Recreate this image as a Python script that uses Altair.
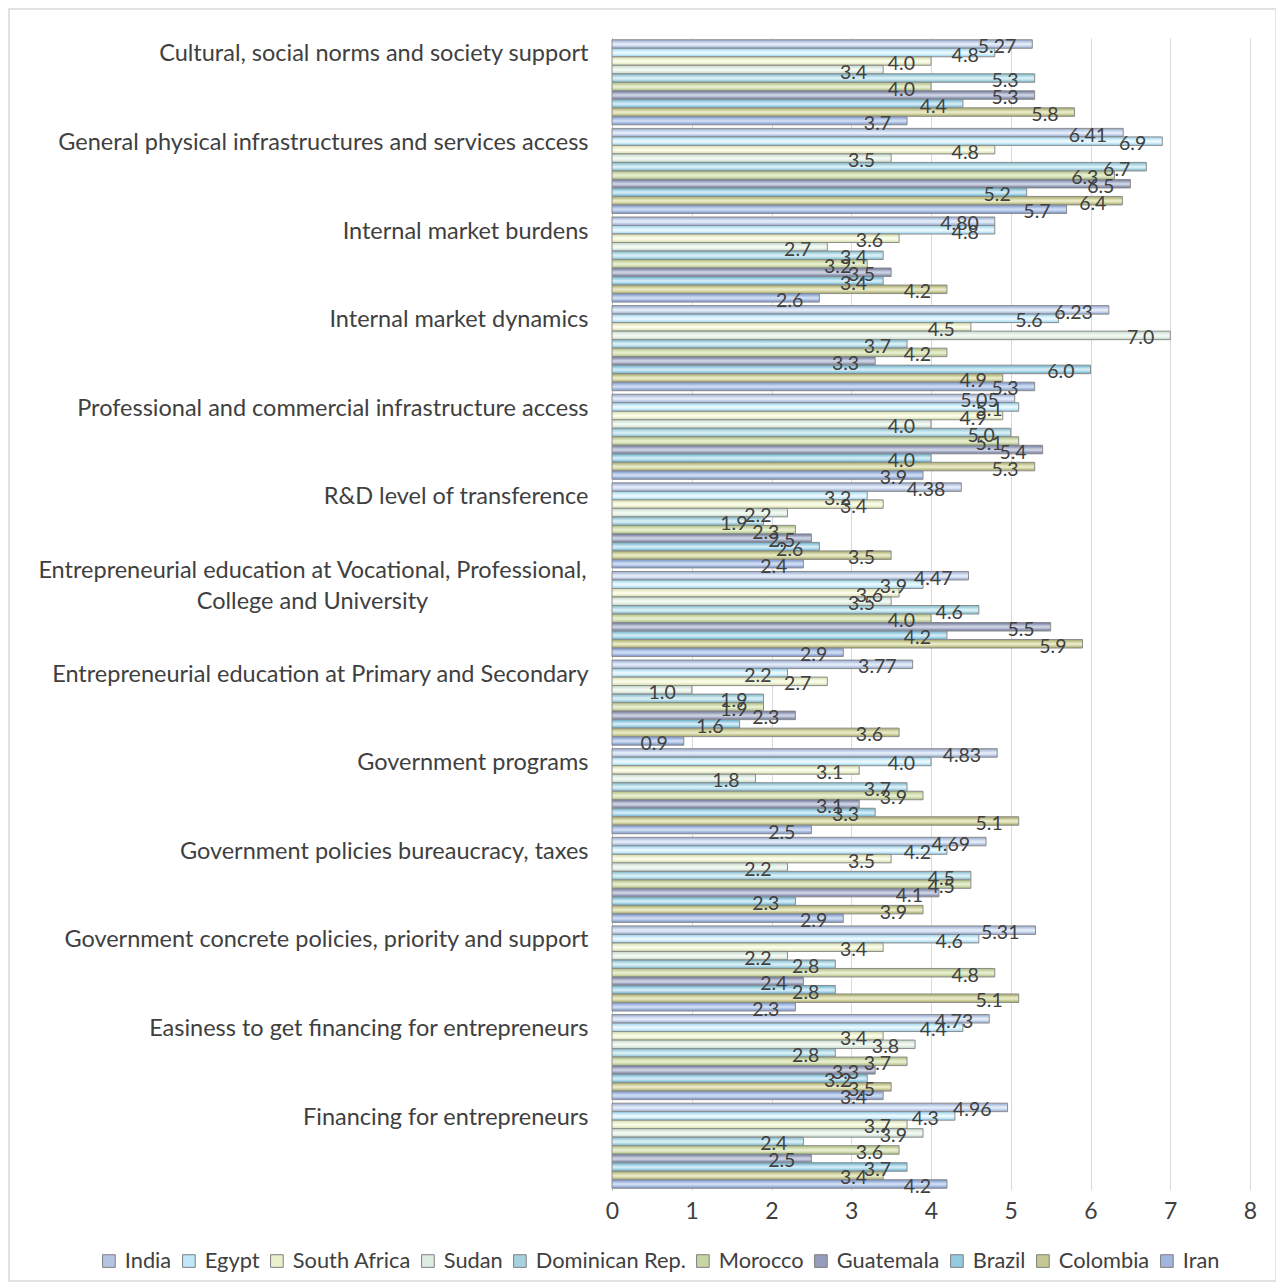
import altair as alt
import pandas as pd

categories = [
    "Cultural, social norms and society support",
    "General physical infrastructures and services access",
    "Internal market burdens",
    "Internal market dynamics",
    "Professional and commercial infrastructure access",
    "R&D level of transference",
    "Entrepreneurial education at Vocational, Professional,|College and University",
    "Entrepreneurial  education at Primary and Secondary",
    "Government programs",
    "Government policies bureaucracy, taxes",
    "Government concrete policies, priority and support",
    "Easiness to get financing for entrepreneurs",
    "Financing for entrepreneurs",
]
countries = ["India", "Egypt", "South Africa", "Sudan", "Dominican Rep.",
             "Morocco", "Guatemala", "Brazil", "Colombia", "Iran"]

india = [5.27, 6.41, 4.80, 6.23, 5.05, 4.38, 4.47, 3.77, 4.83, 4.69, 5.31, 4.73, 4.96]
egypt = [4.8, 6.9, 4.8, 5.6, 5.1, 3.2, 3.9, 2.2, 4.0, 4.2, 4.6, 4.4, 4.3]
south_africa = [4.0, 4.8, 3.6, 4.5, 4.9, 3.4, 3.6, 2.7, 3.1, 3.5, 3.4, 3.4, 3.7]
sudan = [3.4, 3.5, 2.7, 7.0, 4.0, 2.2, 3.5, 1.0, 1.8, 2.2, 2.2, 3.8, 3.9]
dominican = [5.3, 6.7, 3.4, 3.7, 5.0, 1.9, 4.6, 1.9, 3.7, 4.5, 2.8, 2.8, 2.4]
morocco = [4.0, 6.3, 3.2, 4.2, 5.1, 2.3, 4.0, 1.9, 3.9, 4.5, 4.8, 3.7, 3.6]
guatemala = [5.3, 6.5, 3.5, 3.3, 5.4, 2.5, 5.5, 2.3, 3.1, 4.1, 2.4, 3.3, 2.5]
brazil = [4.4, 5.2, 3.4, 6.0, 4.0, 2.6, 4.2, 1.6, 3.3, 2.3, 2.8, 3.2, 3.7]
colombia = [5.8, 6.4, 4.2, 4.9, 5.3, 3.5, 5.9, 3.6, 5.1, 3.9, 5.1, 3.5, 3.4]
iran = [3.7, 5.7, 2.6, 5.3, 3.9, 2.4, 2.9, 0.9, 2.5, 2.9, 2.3, 3.4, 4.2]

series = [india, egypt, south_africa, sudan, dominican,
          morocco, guatemala, brazil, colombia, iran]

edge_colors = ["#93a8cf", "#95d3ee", "#d4dbab", "#c2d8c8", "#7cb7c8",
               "#aabd7e", "#687396", "#63aecb", "#a2a664", "#7591c6"]
mid_colors = ["#e2eaf8", "#eaf8fe", "#fafce8", "#f2f8f2", "#d6eef5",
              "#e6edcd", "#cbd0e1", "#cfeaf5", "#e8e9c4", "#ccdaf2"]
legend_colors = ["#b5c5e4", "#bfe7f8", "#eaefcc", "#deece2", "#a6d2df",
                 "#c7d5a5", "#959dba", "#93cae0", "#c5c792", "#a0b6de"]

rows = []
for c, vals in zip(countries, series):
    for cat, v in zip(categories, vals):
        lab = f"{v:.2f}" if c == "India" else f"{v:.1f}"
        rows.append({"category": cat, "country": c, "value": v, "label": lab})
df = pd.DataFrame(rows)

FONT = "Lato"
TXT = "#404040"
MULTI = "indexof(datum.value, '|') >= 0"

y_enc = alt.Y(
    "category:N",
    sort=categories,
    scale=alt.Scale(domain=categories, paddingInner=0.04, paddingOuter=0.02),
    axis=alt.Axis(
        title=None, labelFontSize=23.5, labelColor=TXT, labelFont=FONT,
        labelAlign={"condition": {"test": MULTI, "value": "center"}, "value": "right"},
        labelBaseline="middle",
        labelOffset={"condition": {"test": MULTI, "value": -43.5}, "value": -28},
        labelPadding={"condition": {"test": MULTI, "value": 300}, "value": 24},
        labelLimit=0, ticks=False, domain=True,
        domainColor="#bfbfbf", labelExpr="split(datum.label, '|')",
        labelLineHeight=31,
    ),
)
yoff_enc = alt.YOffset("country:N", sort=countries,
                       scale=alt.Scale(domain=countries, paddingInner=0.0))
x_enc = alt.X(
    "value:Q",
    scale=alt.Scale(domain=[0, 8], nice=False),
    axis=alt.Axis(title=None, values=list(range(9)), grid=True, gridColor="#d9d9d9",
                  domain=False, ticks=False, labelFontSize=23, labelColor=TXT,
                  labelFont=FONT, labelPadding=10, labelFlush=False),
)

base = alt.Chart(df)
layers = []
for c, e, m in zip(countries, edge_colors, mid_colors):
    grad = alt.LinearGradient(
        gradient="linear",
        stops=[alt.GradientStop(color=e, offset=0),
               alt.GradientStop(color=m, offset=0.45),
               alt.GradientStop(color=m, offset=0.6),
               alt.GradientStop(color=e, offset=1)],
        x1=0, x2=0, y1=0, y2=1,
    )
    layers.append(
        base.transform_filter(alt.datum.country == c)
        .mark_bar(color=grad, stroke="#8c8c8c", strokeWidth=1)
        .encode(x=x_enc, y=y_enc, yOffset=yoff_enc)
    )

text = base.mark_text(align="right", baseline="middle", dx=-16, dy=3,
                      fontSize=19.5, font=FONT, color=TXT).encode(
    x=x_enc, y=y_enc, yOffset=yoff_enc, text="label:N")

legend_layer = base.mark_square(opacity=0).encode(
    x=x_enc, y=y_enc, yOffset=yoff_enc,
    color=alt.Color("country:N", sort=countries,
                    scale=alt.Scale(domain=countries, range=legend_colors),
                    legend=alt.Legend(
                        title=None, orient="none", direction="horizontal",
                        columns=10, legendX=-514, legendY=1212,
                        symbolType="square", symbolSize=160, symbolOpacity=1,
                        symbolStrokeColor="#7f7f7f", symbolStrokeWidth=1,
                        labelFontSize=21.8, labelFont=FONT, labelColor=TXT,
                        labelOffset=5, columnPadding=6, labelLimit=0)),
)

frame = alt.Chart(pd.DataFrame({"f": [0]})).mark_rect(
    filled=False, stroke="#d9d9d9", strokeWidth=1.5).encode(
    x=alt.value(-603), x2=alt.value(664), y=alt.value(-29), y2=alt.value(1243))

chart = alt.layer(*layers, text, legend_layer, frame).properties(
    width=638, height=1152,
    autosize=alt.AutoSizeParams(type="none"),
    padding={"left": 604, "top": 30, "right": 26, "bottom": 94},
).configure_view(stroke=None)

chart.save("out.html", embed_options={"renderer": "svg", "actions": False})
